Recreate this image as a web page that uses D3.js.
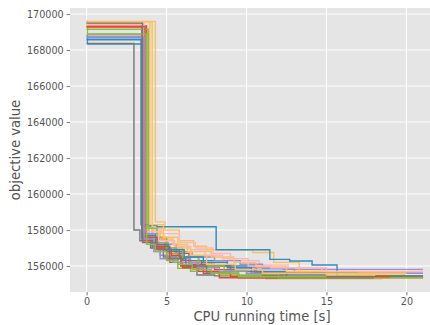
<!DOCTYPE html>
<html><head><meta charset="utf-8">
<script src="https://cdn.jsdelivr.net/npm/d3@7"></script>
<style>body{margin:0;background:#fff;}svg{display:block;font-family:"DejaVu Sans",sans-serif;}</style>
</head><body><svg id="c" width="430" height="325"></svg>
<script>
// tick labels
const xTicks = [0, 5, 10, 15, 20];
const yTicks = [156000, 158000, 160000, 162000, 164000, 166000, 168000, 170000];
const palette = ["#E24A33", "#348ABD", "#988ED5", "#777777", "#FBC15E", "#8EBA42", "#FFB5B8"];
// runs: [time, objective] change points
const run01 = [[0,169330],[3.75,157800],[4.3,157500],[5.0,157200],[5.6,156700],[6.4,156100],[8.0,155800],[10.5,155630]];
const run02 = [[0,168800],[0.05,168330],[3.45,157600],[4.0,157300],[4.9,156900],[5.8,156500],[7.0,156300],[8.8,156000],[10.6,155700],[12.5,155400]];
const run03 = [[0,168760],[3.55,158200],[4.1,157000],[4.6,156600],[5.2,156400],[6.5,156200],[7.8,156000],[9.3,155900],[12.3,155815]];
const run04 = [[0,168370],[2.96,158000],[3.33,157400],[4.0,157000],[4.8,156500],[5.9,156000],[6.9,155500],[8.0,155450]];
const run05 = [[0,169590],[4.3,158450],[4.9,158000],[5.8,157400],[6.7,157100],[7.5,156900],[10.4,156750],[11.7,156200],[13.3,155700],[16.8,155550],[19.9,155370]];
const run06 = [[0,169600],[0.05,168890],[3.9,157600],[4.4,157300],[5.1,156700],[5.7,155870],[6.5,155700],[8.3,155500],[11.2,155300]];
const run07 = [[0,169450],[3.6,158100],[4.7,157800],[5.8,157300],[6.8,157000],[7.9,156700],[9.0,156300],[10.8,156050],[12.6,155900],[15.0,155650]];
const run08 = [[0,169280],[3.5,157400],[4.2,157000],[5.3,156600],[5.9,156000],[7.0,155700],[8.3,155350],[9.5,155330]];
const run09 = [[0,168560],[3.4,158300],[3.9,158250],[4.4,158180],[8.1,156900],[11.46,156370],[12.7,156280],[14.1,156055],[15.66,155444]];
const run10 = [[0,168740],[3.5,157800],[4.5,157200],[5.5,156800],[6.6,156500],[8.0,156300],[9.6,156100],[11.0,155850],[13.0,155600]];
const run11 = [[0,169520],[3.45,157500],[4.1,157100],[5.0,156800],[6.0,156300],[7.2,156000],[9.0,155700],[11.0,155500],[15.0,155450]];
const run12 = [[0,169560],[4.1,158000],[4.6,157500],[5.4,157200],[6.3,156800],[7.8,156500],[9.2,156200],[10.6,155950],[12.5,155700],[15.0,155500],[18.0,155330]];
const run13 = [[0,169150],[3.85,158100],[4.4,157600],[5.0,157000],[6.0,156500],[7.0,156000],[8.6,155750],[10.0,155550],[12.0,155350]];
const run14 = [[0,169400],[3.55,157900],[4.5,157400],[5.5,157100],[6.5,156900],[7.4,156600],[8.5,156400],[10.1,156000],[11.5,155900],[14.7,155700]];
const run15 = [[0,169300],[3.65,157600],[4.4,157100],[5.2,156200],[6.0,155900],[7.3,155600],[9.0,155400]];
const run16 = [[0,168600],[3.5,157700],[4.3,157200],[5.1,156900],[6.1,156500],[7.3,156200],[8.8,155900],[10.3,155600]];
const run17 = [[0,168700],[3.6,157500],[4.2,156800],[4.6,156400],[5.4,156200],[6.9,155900],[8.3,155700],[10.0,155600]];
const run18 = [[0,169500],[3.5,157300],[4.3,156900],[5.0,156400],[6.2,156000],[7.5,155600],[9.5,155400]];
const run19 = [[0,169570],[3.95,158300],[4.8,157600],[5.7,157000],[6.5,156600],[7.5,156100],[9.3,155800],[11.0,155600]];
const run20 = [[0,168880],[3.75,157200],[4.3,156800],[5.0,156300],[5.7,156100],[6.6,155800],[7.8,155600],[9.5,155400]];
const runEnds = [16.7, 21.04, 21.04, 12.3, 21.04, 18.5, 21.04, 21.04, 21.04, 21.04, 21.04, 21.04, 21.04, 21.04, 19.0, 17.0, 14.0, 18.0, 20.0, 15.0];

const runs = [run01,run02,run03,run04,run05,run06,run07,run08,run09,run10,run11,run12,run13,run14,run15,run16,run17,run18,run19,run20];

const W = 430, H = 325;
const L = 70, R = 440, T = 8, B = 292;
const svg = d3.select("#c");
const x = d3.scaleLinear().domain([-1.04, 22.1]).range([L, R]);
const y = d3.scaleLinear().domain([154556, 170333]).range([B, T]);

svg.append("defs").append("clipPath").attr("id", "clip")
  .append("rect").attr("x", L).attr("y", T).attr("width", R - L).attr("height", B - T);

svg.append("rect").attr("x", L).attr("y", T).attr("width", R - L).attr("height", B - T).attr("fill", "#E5E5E5");

// grid
const g = svg.append("g").attr("clip-path", "url(#clip)");
g.selectAll(".gx").data(xTicks).join("line")
  .attr("x1", d => x(d)).attr("x2", d => x(d)).attr("y1", T).attr("y2", B)
  .attr("stroke", "#fff").attr("stroke-width", 1.1);
g.selectAll(".gy").data(yTicks).join("line")
  .attr("y1", d => y(d)).attr("y2", d => y(d)).attr("x1", L).attr("x2", R)
  .attr("stroke", "#fff").attr("stroke-width", 1.1);

// lines
const line = d3.line().x(d => x(d[0])).y(d => y(d[1])).curve(d3.curveStepAfter);
runs.forEach((r, i) => {
  const pts = r.concat([[runEnds[i], r[r.length - 1][1]]]);
  g.append("path").datum(pts).attr("d", line)
    .attr("fill", "none").attr("stroke", palette[i % palette.length])
    .attr("stroke-width", 1.4);
});

// axes
const xAxis = d3.axisBottom(x).tickValues(xTicks).tickSize(3.4).tickPadding(3).tickFormat(d3.format("d"));
const yAxis = d3.axisLeft(y).tickValues(yTicks).tickSize(3.4).tickPadding(3).tickFormat(d3.format("d"));
const ax = svg.append("g").attr("transform", `translate(0,${B})`).call(xAxis);
const ay = svg.append("g").attr("transform", `translate(${L},0)`).call(yAxis);
[ax, ay].forEach(a => {
  a.select(".domain").remove();
  a.selectAll(".tick line").attr("stroke", "#555").attr("stroke-width", 0.8);
  a.selectAll(".tick text").attr("fill", "#555").attr("font-size", 9.6).attr("font-family", "DejaVu Sans");
});

svg.append("text").attr("x", 262).attr("y", 321).attr("text-anchor", "middle")
  .attr("fill", "#555").attr("font-size", 13.2).text("CPU running time [s]");
svg.append("text").attr("transform", `translate(20,${(T + B) / 2}) rotate(-90)`).attr("text-anchor", "middle")
  .attr("fill", "#555").attr("font-size", 13.2).text("objective value");
</script></body></html>
